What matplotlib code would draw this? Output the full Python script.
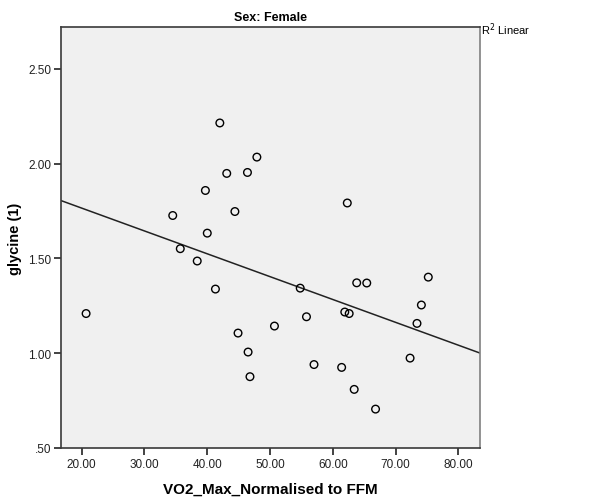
import numpy as np
import matplotlib.pyplot as plt

# VO2 max normalised to FFM vs glycine, female subjects
vo2 = [42.0, 47.9, 43.1, 46.4, 39.7, 62.3, 34.5, 44.4, 40.0, 35.7, 38.4,
       41.3, 20.7, 44.9, 46.5, 46.8, 50.7, 54.8, 55.8, 57.0, 61.9, 62.6,
       61.4, 63.4, 63.8, 65.4, 66.8, 72.3, 73.4, 74.1, 75.2]
glycine = [2.214, 2.034, 1.948, 1.953, 1.858, 1.792, 1.726, 1.747, 1.633, 1.551, 1.486,
           1.338, 1.209, 1.106, 1.006, 0.876, 1.143, 1.343, 1.192, 0.940, 1.217, 1.209,
           0.925, 0.809, 1.371, 1.370, 0.705, 0.974, 1.157, 1.254, 1.401]

# fit line: glycine = intercept + slope * vo2
fit_intercept = 2.006
fit_slope = -0.01205

x_ticks = [20, 30, 40, 50, 60, 70, 80]
y_ticks = [0.5, 1.0, 1.5, 2.0, 2.5]
y_tick_labels = ['.50', '1.00', '1.50', '2.00', '2.50']

plt.rcParams['font.family'] = ['Liberation Sans', 'DejaVu Sans']

fig = plt.figure(figsize=(6.14, 5.02), dpi=100)
ax = fig.add_axes([0.0989, 0.1056, 0.683, 0.8386])
ax.set_facecolor('#f0f0f0')

xlim = (16.66, 83.45)
ax.set_xlim(*xlim)
ax.set_ylim(0.5, 2.72)

ax.scatter(vo2, glycine, s=30, facecolors='none', edgecolors='black', linewidths=1.0, zorder=3)

line_x = np.array(xlim)
ax.plot(line_x, fit_intercept + fit_slope * line_x, color='#222222', linewidth=1.1, zorder=2)

ax.set_xticks(x_ticks)
ax.set_xticklabels(['%.2f' % v for v in x_ticks])
ax.set_yticks(y_ticks)
ax.set_yticklabels(y_tick_labels)
ax.tick_params(direction='out', length=5, width=1.2, labelsize=8.5, colors='#222222', pad=2)

for side in ['left', 'bottom', 'top', 'right']:
    ax.spines[side].set_color('#3a3a3a')
    ax.spines[side].set_linewidth(1.2)
ax.spines['right'].set_color('#808080')

ax.set_title('Sex: Female', fontsize=9, fontweight='bold', pad=5)
ax.set_xlabel('VO2_Max_Normalised to FFM', fontsize=11, fontweight='bold', labelpad=9)
ax.set_ylabel('glycine (1)', fontsize=10.5, fontweight='bold', labelpad=4)

fig.text(0.784, 0.925, r'R$^2$ Linear', fontsize=8, va='bottom', ha='left')

plt.savefig('out.png', dpi=100)
